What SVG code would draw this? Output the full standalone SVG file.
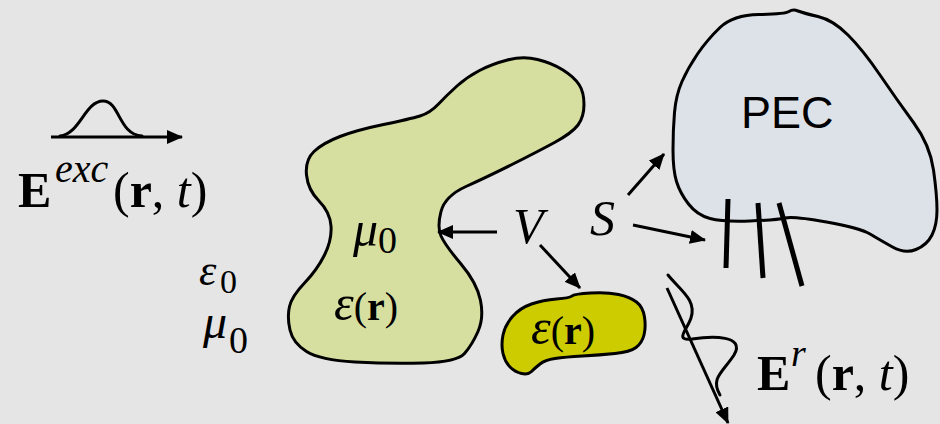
<svg xmlns="http://www.w3.org/2000/svg" width="940" height="424" viewBox="0 0 940 424">
  <defs>
    <marker id="head" markerUnits="userSpaceOnUse" markerWidth="16" markerHeight="14" refX="15" refY="7" orient="auto">
      <path d="M0,0 L16,7 L0,14 z" fill="#000"/>
    </marker>
    <style>
      .outline { stroke: #000; stroke-width: 3; stroke-linejoin: round; }
      .arrow { fill: none; stroke: #000; stroke-width: 3; marker-end: url(#head); }
      .wave { fill: none; stroke: #000; stroke-width: 3; stroke-linecap: round; }
      .bar { stroke: #000; stroke-width: 5; }
      .math { font-family: "Liberation Serif", "Times New Roman", serif; fill: #000; }
      .it { font-style: italic; }
      .bd { font-weight: bold; }
      .sans { font-family: "Liberation Sans", Arial, sans-serif; fill: #000; }
    </style>
  </defs>

  <rect width="940" height="424" fill="#e5e5e5"/>

  <!-- dielectric body (large) -->
  <g id="dielectric-main">
    <path class="outline" fill="#d6df9f" d="M306.5,175 Q305,160 314,151.5 Q323,143 340,136.5 Q357,130 383.5,124.5 Q410,119 420,116 Q430,113 438.5,104 Q447,95 457,86 Q467,77 479.5,70.5 Q492,64 507.5,60 Q523,56 537.5,59.5 Q552,63 563,70 Q574,77 579,84.5 Q584,92 584,104.5 Q584,117 578,125 Q572,133 554.5,142.5 Q537,152 512,164.5 Q487,177 466,186.5 Q445,196 441,211.5 Q437,227 441,236 Q445,245 461,264 Q477,283 480.5,300.5 Q484,318 478,331.5 Q472,345 464.5,353.5 Q457,362 423.5,363 Q390,364 355,362 Q320,360 306.5,351.5 Q293,343 290,330 Q287,317 289.5,306.5 Q292,296 304.5,283 Q317,270 324.5,255 Q332,240 331,226 Q330,212 319,201 Q308,190 306.5,175 Z"/>
    <text class="math"><tspan class="it" x="353" y="246" font-size="50">μ</tspan><tspan x="378" y="253" font-size="38">0</tspan></text>
    <text class="math" font-size="40"><tspan class="it" x="334" y="320" font-size="50">ε</tspan><tspan>(</tspan><tspan class="bd">r</tspan><tspan>)</tspan></text>
  </g>

  <!-- dielectric body (small) -->
  <g id="dielectric-small">
    <path class="outline" fill="#cccc00" d="M512.5,316.5 Q520,308 531.5,304 Q543,300 556.5,299 Q570,298 572,296 Q574,294 590.5,293 Q607,292 618.5,294.5 Q630,297 636.5,302 Q643,307 644.5,317 Q646,327 644,335 Q642,343 636,347.5 Q630,352 615,353.5 Q600,355 582.5,356 Q565,357 555,358.5 Q545,360 540,364 Q535,368 531.5,371.5 Q528,375 521.5,373.5 Q515,372 510,367 Q505,362 503,353.5 Q501,345 503,335 Q505,325 512.5,316.5 Z"/>
    <text class="math" font-size="40"><tspan class="it" x="531" y="344" font-size="50">ε</tspan><tspan>(</tspan><tspan class="bd">r</tspan><tspan>)</tspan></text>
  </g>

  <!-- perfect electric conductor -->
  <g id="pec">
    <path class="outline" fill="#dde2e9" d="M759,14.5 Q733,15 720,27.5 Q707,40 697.5,54 Q688,68 682,81.5 Q676,95 674.5,112.5 Q673,130 673,150 Q673,170 676.5,181.5 Q680,193 688.5,204 Q697,215 710,218.5 Q723,222 750,221 Q777,220 785,218 Q793,216 826.5,222 Q860,228 870,234 Q880,240 892.5,247 Q905,254 916,249.5 Q927,245 932,235 Q937,225 937,210 Q937,195 933.5,170 Q930,145 913.5,122.5 Q897,100 880,75 Q863,50 848,35 Q833,20 818,16.5 Q803,13 798,11 Q793,9 789,11.5 Q785,14 759,14.5 Z"/>
    <text class="sans" font-size="45" x="741" y="128">PEC</text>
  </g>

  <!-- surface marks on the conductor -->
  <g id="surface-marks">
    <line class="bar" x1="728" y1="199" x2="726" y2="268"/>
    <line class="bar" x1="758" y1="203" x2="763" y2="278"/>
    <line class="bar" x1="779" y1="203" x2="802" y2="286"/>
  </g>

  <!-- incident field -->
  <g id="incident">
    <line class="arrow" x1="51" y1="137" x2="182" y2="137"/>
    <path class="wave" d="M60,136 C80,134 85,101 103,101 C120,101 118,134 142,136"/>
    <text class="math" font-size="50"><tspan class="bd" x="18" y="207">E</tspan><tspan class="it" x="55" y="182" font-size="40">exc</tspan><tspan x="113" y="207">(</tspan><tspan class="bd">r</tspan><tspan>, </tspan><tspan class="it">t</tspan><tspan>)</tspan></text>
  </g>

  <!-- reflected field -->
  <g id="reflected">
    <path class="wave" d="M668,275 C680,290 697,300 691,318 C687,330 674,341 692,339 C712,336 746,335 734,355 C723,372 710,378 720,395"/>
    <text class="math" font-size="50"><tspan class="bd" x="757" y="390">E</tspan><tspan class="it" x="791" y="366" font-size="38">r</tspan><tspan x="815" y="390">(</tspan><tspan class="bd">r</tspan><tspan>, </tspan><tspan class="it">t</tspan><tspan>)</tspan></text>
  </g>

  <!-- background medium -->
  <g id="medium">
    <text class="math"><tspan class="it" x="199" y="285" font-size="44">ε</tspan><tspan x="220" y="293" font-size="34">0</tspan></text>
    <text class="math"><tspan class="it" x="203" y="338" font-size="48">μ</tspan><tspan x="229" y="353" font-size="38">0</tspan></text>
  </g>

  <!-- labels -->
  <g id="labels">
    <text class="math it" font-size="50" x="513" y="243">V</text>
    <text class="math it" font-size="50" x="590" y="235">S</text>
  </g>

  <!-- connectors -->
  <g id="connectors">
    <line class="arrow" x1="497" y1="232" x2="438" y2="232"/>
    <line class="arrow" x1="540" y1="245" x2="580" y2="288"/>
    <line class="arrow" x1="628" y1="195" x2="664" y2="154"/>
    <line class="arrow" x1="633" y1="225" x2="705" y2="240"/>
    <line class="arrow" x1="667" y1="288" x2="728" y2="423"/>
  </g>
</svg>
